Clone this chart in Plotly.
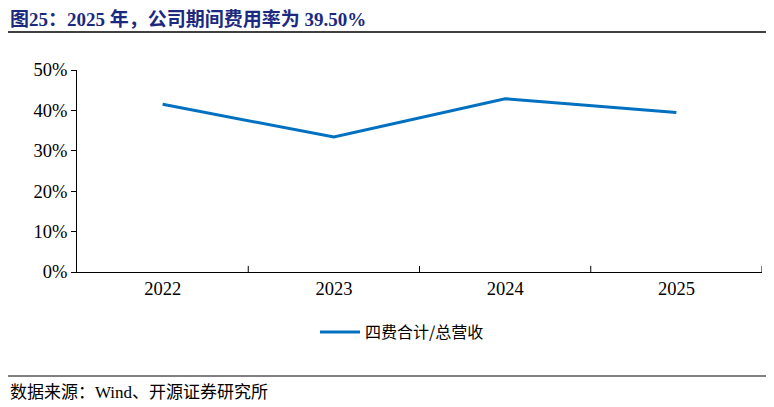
import plotly.graph_objects as go

years = ["2022", "2023", "2024", "2025"]
ratio = [41.5, 33.4, 42.9, 39.5]
series_name = "四费合计/总营收"
title_text = "图25：2025 年，公司期间费用率为 39.50%"
source_text = "数据来源：Wind、开源证券研究所"

# page body has an 8px margin; size the figure to fit the 774x407 window
W, H = 766, 399
L, R, T, B = 69, 12, 62, 135
PW, PH = W - L - R, H - T - B
serif = "Liberation Serif, Times New Roman, Noto Serif CJK SC, Noto Sans CJK SC, serif"


def px(x):
    return (x - L) / PW


def py(y):
    return 1 - (y - T) / PH


fig = go.Figure()
fig.add_trace(go.Scatter(
    x=years, y=ratio, mode="lines", name=series_name,
    line=dict(color="#0070C0", width=3),
))

fig.update_layout(
    width=W, height=H,
    paper_bgcolor="white", plot_bgcolor="white",
    margin=dict(l=L, r=R, t=T, b=B),
    font=dict(family=serif, size=18, color="black"),
    showlegend=True,
    legend=dict(orientation="h", x=px(394), xanchor="center", y=py(324), yanchor="middle",
                itemwidth=40,
                font=dict(family="Noto Sans CJK SC", size=16, color="black")),
    xaxis=dict(
        type="category", range=[-0.5, 3.5],
        showline=True, linecolor="black", linewidth=1,
        ticks="", showgrid=False, zeroline=False,
        tickfont=dict(family=serif, size=18.5, color="black"),
    ),
    yaxis=dict(
        range=[0, 50], dtick=10, ticksuffix="%",
        showline=True, linecolor="black", linewidth=1,
        ticks="outside", ticklen=5, tickcolor="black",
        showgrid=False, zeroline=False,
        tickfont=dict(family=serif, size=18.5, color="black"),
    ),
)

# category boundary ticks on the x axis (inward)
for b in [0.5, 1.5, 2.5, 3.5]:
    fig.add_shape(type="line", xref="x", yref="paper", x0=b, x1=b, y0=0, y1=0.03,
                  line=dict(color="black", width=1))

# title and rules
fig.add_annotation(text="<b>" + title_text + "</b>", xref="paper", yref="paper",
                   x=px(0), y=py(11), xanchor="left", yanchor="middle", showarrow=False,
                   font=dict(family="Liberation Serif, Noto Sans CJK SC", size=19, color="#1B2A80"))
fig.add_shape(type="line", xref="paper", yref="paper",
              x0=px(0), x1=px(762), y0=py(24), y1=py(24),
              line=dict(color="black", width=1.5))
fig.add_shape(type="line", xref="paper", yref="paper",
              x0=px(0), x1=px(762), y0=py(368), y1=py(368),
              line=dict(color="black", width=1.2))
fig.add_annotation(text=source_text, xref="paper", yref="paper",
                   x=px(0), y=py(384), xanchor="left", yanchor="middle", showarrow=False,
                   font=dict(family="Liberation Serif, Noto Sans CJK SC", size=17, color="black"))

fig.write_html("out.html")
